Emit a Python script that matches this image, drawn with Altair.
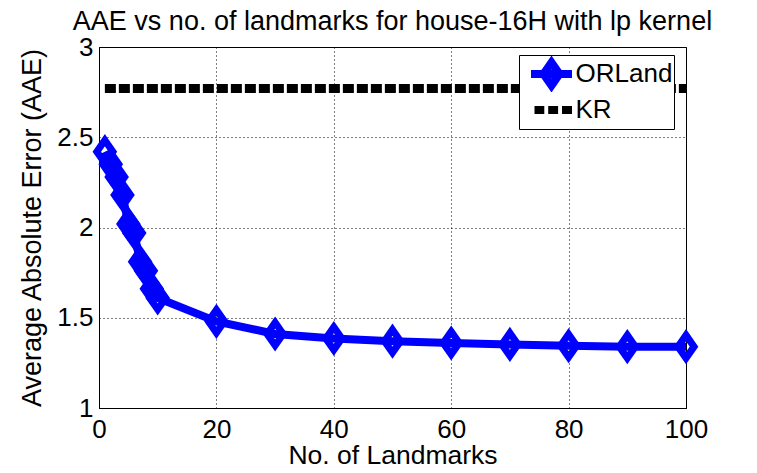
import altair as alt
import pandas as pd

# ---- data ----
landmarks = [1, 2, 3, 4, 5, 6, 7, 8, 9, 10, 20, 30, 40, 50, 60, 70, 80, 90, 100]
orland_aae = [2.42, 2.35, 2.28, 2.18, 2.02, 1.97, 1.81, 1.76, 1.66, 1.61,
              1.48, 1.41, 1.385, 1.37, 1.36, 1.352, 1.345, 1.34, 1.34]
kr_x = [1, 100]
kr_aae = [2.77, 2.77]
series_names = ["ORLand", "KR"]
x_ticks = [0, 20, 40, 60, 80, 100]
y_ticks = [1, 1.5, 2, 2.5, 3]
title_text = "AAE vs no. of landmarks for house-16H with lp kernel"
x_title = "No. of Landmarks"
y_title = "Average Absolute Error (AAE)"

FONT = "Liberation Sans"
BLUE = "#0000FF"
BLACK = "#000000"

DIAMOND = "M0,-1L0.7,0L0,1L-0.7,0Z"
LEG_OR = "M-2.05,0L2.05,0M0,-1.15L0.8,0L0,1.15L-0.8,0Z"
LEG_KR = "M-1.7,0L-0.72,0M-0.33,0L0.66,0M1.05,0L2.05,0"

orland_df = pd.DataFrame({"x": landmarks, "y": orland_aae, "series": "ORLand"})
kr_df = pd.DataFrame({"x": kr_x, "y": kr_aae, "series": "KR"})

x_enc = alt.X(
    "x:Q",
    scale=alt.Scale(domain=[0, 100], nice=False, zero=False),
    axis=alt.Axis(values=x_ticks, title=x_title, labelPadding=8, titlePadding=0,
                  titleFontSize=26.5),
)
y_enc = alt.Y(
    "y:Q",
    scale=alt.Scale(domain=[1, 3], nice=False, zero=False),
    axis=alt.Axis(values=y_ticks, format="~g", title=y_title, labelPadding=6,
                  titlePadding=10),
)

kr_line = alt.Chart(kr_df).mark_line(
    color=BLACK, strokeWidth=9, strokeDash=[11, 3]
).encode(x=x_enc, y=y_enc)

or_line = alt.Chart(orland_df).mark_line(
    color=BLUE, strokeWidth=8
).encode(x=x_enc, y=y_enc)

or_points = alt.Chart(orland_df).mark_point(
    filled=False, color=BLUE, strokeWidth=7, size=529, opacity=1,
    shape=DIAMOND, strokeJoin="miter"
).encode(x=x_enc, y=y_enc)

legend_layer = alt.Chart(orland_df).transform_filter("datum.x < 0").mark_point(
    filled=False, strokeWidth=8, opacity=1
).encode(
    x=x_enc, y=y_enc,
    color=alt.Color("series:N",
                    scale=alt.Scale(domain=series_names, range=[BLUE, BLACK]),
                    legend=alt.Legend(title=None)),
    shape=alt.Shape("series:N",
                    scale=alt.Scale(domain=series_names, range=[LEG_OR, LEG_KR]),
                    legend=alt.Legend(title=None)),
)

chart = alt.layer(kr_line, or_line, or_points, legend_layer).properties(
    width=587,
    height=361,
    title=alt.Title(title_text, fontSize=27, font=FONT, fontWeight="normal",
                    color=BLACK, anchor="middle", frame="group",
                    baseline="alphabetic", offset=0, dy=23),
    padding={"left": 91, "top": 39, "right": 63, "bottom": 57},
    autosize=alt.AutoSizeParams(type="none"),
).configure_view(
    stroke=BLACK, strokeWidth=1
).configure_axis(
    domainColor=BLACK, domainWidth=1,
    grid=True, gridColor=BLACK, gridDash=[1, 3], gridOpacity=1, gridWidth=1,
    ticks=False, tickSize=0,
    labelFont=FONT, labelFontSize=26, labelColor=BLACK,
    labelFlush=False, labelOverlap=False,
    titleFont=FONT, titleFontSize=27, titleFontWeight="normal", titleColor=BLACK,
).configure_legend(
    orient="none", legendX=420, legendY=8,
    symbolSize=400, symbolStrokeWidth=8, symbolOffset=17.5,
    labelFont=FONT, labelFontSize=26, labelColor=BLACK, labelOffset=10,
    padding=1, rowPadding=-4, clipHeight=36,
    strokeColor=BLACK, fillColor="white", cornerRadius=0,
)

chart.save("out.html", embed_options={"renderer": "svg", "actions": False})
